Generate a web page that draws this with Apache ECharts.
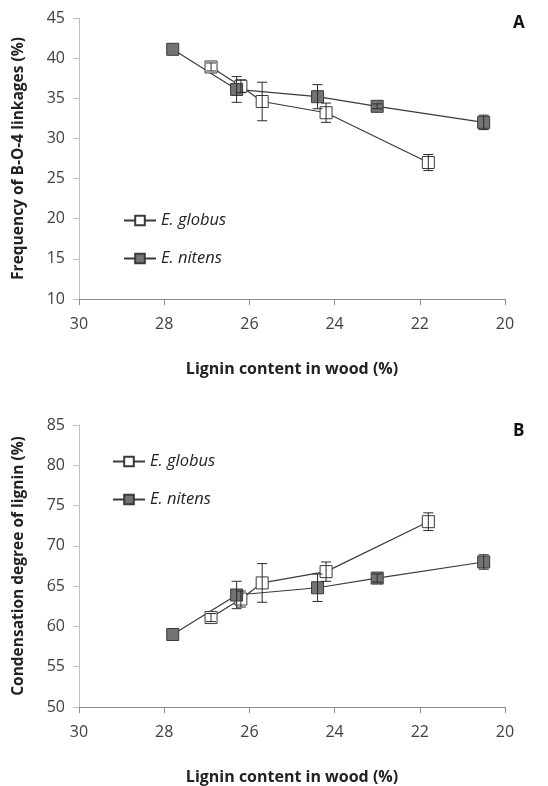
<!DOCTYPE html>
<html><head><meta charset="utf-8">
<script src="https://cdn.jsdelivr.net/npm/echarts@6/dist/echarts.min.js"></script>
<style>html,body{margin:0;padding:0;background:#fff}#c{width:548px;height:786px}</style>
</head><body><div id="c"></div>
<script>
const seriesNames = ['E. globus', 'E. nitens'];
const globusX = [26.9, 26.2, 25.7, 24.2, 21.8];
const nitensX = [27.8, 26.3, 24.4, 23.0, 20.5];
const globusA = [38.9, 36.5, 34.6, 33.2, 27.0];
const globusAErr = [0.5, 0.8, 2.4, 1.2, 1.0];
const nitensA = [41.1, 36.1, 35.2, 34.0, 32.0];
const nitensAErr = [0, 1.6, 1.5, 0.3, 0.9];
const globusB = [61.1, 63.4, 65.4, 66.8, 73.0];
const globusBErr = [0.5, 1.0, 2.4, 1.2, 1.1];
const nitensB = [59.0, 63.9, 64.8, 66.0, 68.0];
const nitensBErr = [0, 1.7, 1.7, 0.5, 0.9];
const xTitle = 'Lignin content in wood (%)';
const yTitleA = 'Frequency of B-O-4 linkages (%)';
const yTitleB = 'Condensation degree of lignin (%)';
const panelLabels = ['A', 'B'];

const FONT = '"Open Sans", "Noto Sans", sans-serif';
const pts = (xs, ys) => xs.map((x, i) => [x, ys[i]]);
const errs = (xs, ys, es) => xs.map((x, i) => [x, ys[i] - es[i], ys[i] + es[i]]);

function errItem(params, api) {
  const x = api.value(0), lo = api.value(1), hi = api.value(2);
  if (hi - lo <= 0) return null;
  const p1 = api.coord([x, hi]), p2 = api.coord([x, lo]);
  const w = 5, st = {stroke: '#2a2a2a', lineWidth: 1};
  return {type: 'group', children: [
    {type: 'line', shape: {x1: p1[0], y1: p1[1], x2: p2[0], y2: p2[1]}, style: st},
    {type: 'line', shape: {x1: p1[0] - w, y1: p1[1], x2: p1[0] + w, y2: p1[1]}, style: st},
    {type: 'line', shape: {x1: p2[0] - w, y1: p2[1], x2: p2[0] + w, y2: p2[1]}, style: st}
  ]};
}

function xAxisFor(gi) {
  return {
    type: 'value', gridIndex: gi, min: 20, max: 30, interval: 2, inverse: true,
    name: xTitle, nameLocation: 'middle', nameGap: 62,
    nameTextStyle: {fontFamily: FONT, fontSize: 16, fontWeight: 'bold', color: '#222'},
    axisLine: {lineStyle: {color: '#8c8c8c', width: 1}},
    axisTick: {show: true, length: 6, lineStyle: {color: '#8c8c8c'}},
    axisLabel: {fontFamily: FONT, fontSize: 16, color: '#404040', margin: 17},
    splitLine: {show: false}
  };
}
function yAxisFor(gi, min, max, name) {
  return {
    type: 'value', gridIndex: gi, min: min, max: max, interval: 5,
    name: name, nameLocation: 'middle', nameGap: 52,
    nameTextStyle: {fontFamily: FONT, fontSize: 15.5, fontWeight: 'bold', color: '#222'},
    axisLine: {show: true, lineStyle: {color: '#bfbfbf', width: 1}},
    axisTick: {show: true, length: 6, lineStyle: {color: '#bfbfbf'}},
    axisLabel: {fontFamily: FONT, fontSize: 16, color: '#404040', margin: 14},
    splitLine: {show: false}
  };
}
function lineSeries(name, gi, data, filled) {
  return {
    type: 'line', name: name, xAxisIndex: gi, yAxisIndex: gi, data: data,
    symbol: 'rect', symbolSize: 12,
    lineStyle: {color: '#3a3a3a', width: 1.2},
    itemStyle: {color: filled ? '#737373' : '#ffffff', borderColor: '#3a3a3a', borderWidth: 1},
    emphasis: {disabled: true}, animation: false, z: 2
  };
}
function errSeries(gi, data) {
  return {type: 'custom', xAxisIndex: gi, yAxisIndex: gi, data: data, renderItem: errItem,
    encode: {x: 0, y: [1, 2]}, z: 5, silent: true, animation: false};
}
const legendStyle = {fontFamily: FONT, fontSize: 16.5, fontStyle: 'italic', color: '#222'};

const option = {
  backgroundColor: '#ffffff',
  animation: false,
  grid: [
    {left: 79, right: 43, top: 18, height: 281},
    {left: 79, right: 43, top: 425, height: 283}
  ],
  title: [
    {text: panelLabels[0], left: 508, top: 10, textStyle: {fontFamily: FONT, fontSize: 17, fontWeight: 'bold', color: '#111'}},
    {text: panelLabels[1], left: 508, top: 418, textStyle: {fontFamily: FONT, fontSize: 17, fontWeight: 'bold', color: '#111'}}
  ],
  legend: [
    {data: seriesNames, orient: 'vertical', left: 123, top: 212, padding: 0, itemWidth: 32, itemHeight: 12, itemGap: 21, textStyle: legendStyle},
    {data: seriesNames, orient: 'vertical', left: 112, top: 453, padding: 0, itemWidth: 32, itemHeight: 12, itemGap: 21, textStyle: legendStyle}
  ],
  xAxis: [xAxisFor(0), xAxisFor(1)],
  yAxis: [yAxisFor(0, 10, 45, yTitleA), yAxisFor(1, 50, 85, yTitleB)],
  series: [
    lineSeries(seriesNames[0], 0, pts(globusX, globusA), false),
    lineSeries(seriesNames[1], 0, pts(nitensX, nitensA), true),
    errSeries(0, errs(globusX, globusA, globusAErr)),
    errSeries(0, errs(nitensX, nitensA, nitensAErr)),
    lineSeries(seriesNames[0], 1, pts(globusX, globusB), false),
    lineSeries(seriesNames[1], 1, pts(nitensX, nitensB), true),
    errSeries(1, errs(globusX, globusB, globusBErr)),
    errSeries(1, errs(nitensX, nitensB, nitensBErr))
  ]
};
const chart = echarts.init(document.getElementById('c'), null, {renderer: 'canvas'});
chart.setOption(option);
</script></body></html>
